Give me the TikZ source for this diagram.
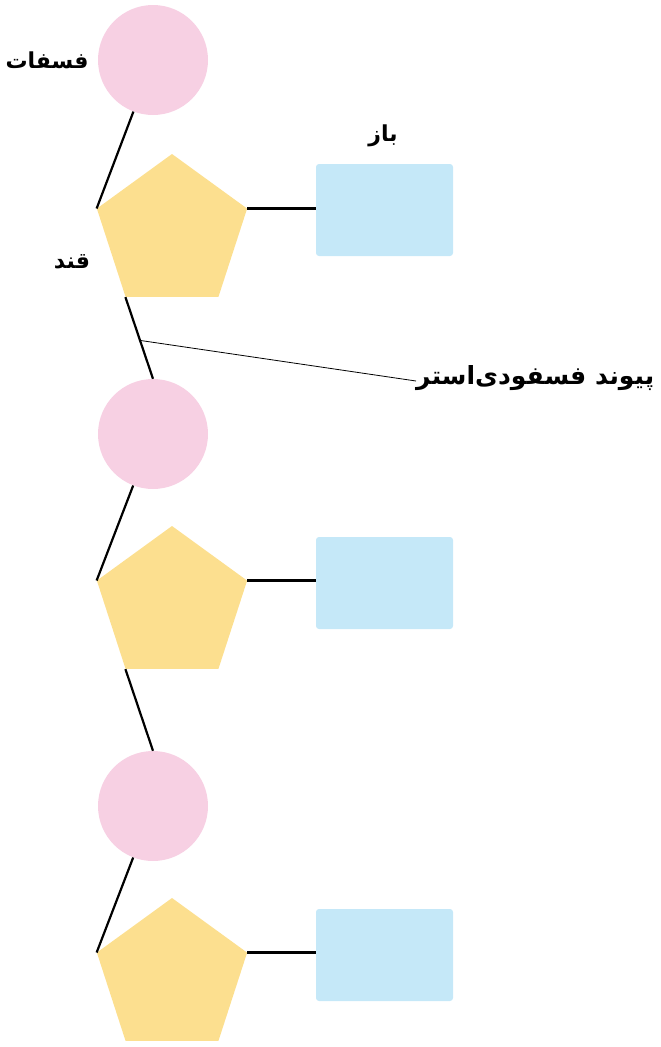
\documentclass[tikz,border=0pt]{standalone}
\usepackage{fontspec}
\usetikzlibrary{shapes.geometric,calc}
\newfontfamily\arabicfont[Script=Arabic]{DejaVu Sans}
\TeXXeTstate=1
\definecolor{phos}{HTML}{F7D0E3}
\definecolor{sugar}{HTML}{FCDF8F}
\definecolor{base}{HTML}{C5E8F8}
\tikzset{
  phosnode/.style={circle,fill=phos,minimum size=110pt,inner sep=0pt},
  sugarnode/.style={regular polygon,regular polygon sides=5,fill=sugar,minimum size=158pt,inner sep=0pt},
  basenode/.style={rectangle,rounded corners=3pt,fill=base,minimum width=137pt,minimum height=92pt,inner sep=0pt},
  bond/.style={line width=2.2pt,black},
  lbl/.style={font=\arabicfont\bfseries\fontsize{22}{26}\selectfont,inner sep=0pt}
}
\begin{document}
\begin{tikzpicture}[x=1pt,y=-1pt]
\useasboundingbox (0,0) rectangle (661,1047);
% phosphates
\node[phosnode] (c1) at (153,60) {};
\node[phosnode] (c2) at (153,434) {};
\node[phosnode] (c3) at (153,806) {};
% sugars
\node[sugarnode] (p1) at (172,233) {};
\node[sugarnode] (p2) at (172,605) {};
\node[sugarnode] (p3) at (172,977) {};
% bases
\node[basenode] (b1) at (384.5,210) {};
\node[basenode] (b2) at (384.5,583) {};
\node[basenode] (b3) at (384.5,955) {};
% bonds
\draw[bond] (c1) -- (p1.corner 2);
\draw[bond] (c2) -- (p2.corner 2);
\draw[bond] (c3) -- (p3.corner 2);
\draw[bond] (p1.corner 3) -- (c2.north);
\draw[bond] (p2.corner 3) -- (c3.north);
\draw[bond] (p1.corner 5) -- (p1.corner 5 -| b1.west);
\draw[bond] (p2.corner 5) -- (p2.corner 5 -| b2.west);
\draw[bond] (p3.corner 5) -- (p3.corner 5 -| b3.west);
% labels
\node[lbl] (lphos) at (47,60) {\beginR فسفات\endR};
\node[lbl] (lsug) at (72,262) {\beginR قند\endR};
\node[lbl] (lbase) at (383,136) {\beginR باز\endR};
\node[lbl,anchor=west,font=\arabicfont\bfseries\fontsize{25}{30}\selectfont] (lpde) at (416,378) {\beginR پیوند فسفودی‌استر\endR};
\coordinate (pdept) at ($(p1.corner 3)!0.53!(c2.north)$);
\draw[line width=0.8pt] (pdept) -- ($(lpde.west)+(0,3)$);
\end{tikzpicture}
\end{document}
